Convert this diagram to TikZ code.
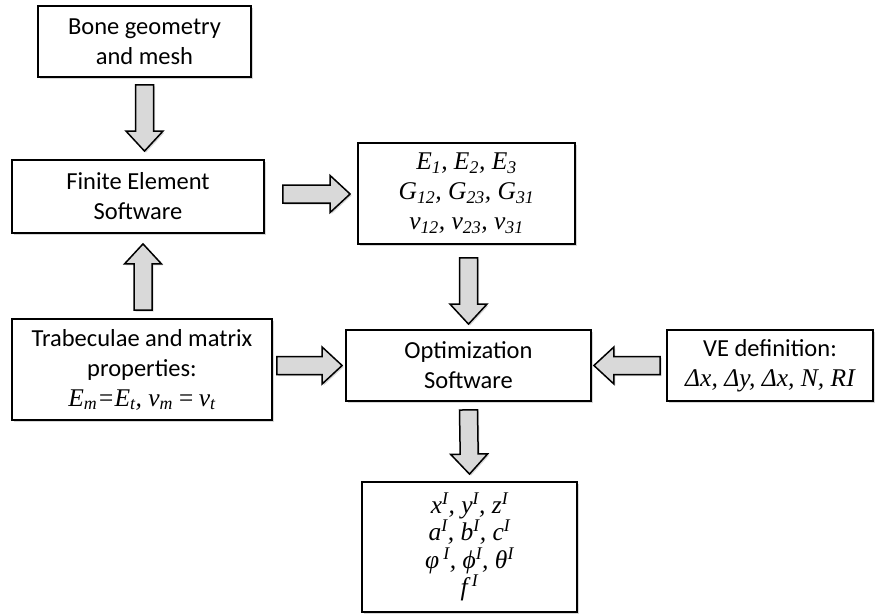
\documentclass[tikz,border=0pt]{standalone}
\usepackage{fontspec}
\setmainfont{Carlito}
\newfontfamily\tnr{Liberation Serif}
\usepackage{xcolor}
\usetikzlibrary{calc, shadows}
\definecolor{arrowgray}{HTML}{D9D9D9}
\definecolor{shadowgray}{HTML}{8C8C8C}
\newcommand{\mth}[1]{{\tnr\itshape\fontsize{25.5}{\baselineskip}\selectfont #1}}
\newcommand{\tsub}[1]{\textsubscript{#1}}
\newcommand{\tsup}[1]{\textsuperscript{#1}}

\begin{document}
\begin{tikzpicture}[
    x=1pt, y=-1pt,
    every node/.style={font=\fontsize{24.5}{30}\selectfont},
    box/.style={
      rectangle, draw=black, fill=white,
      line width=1.8pt, align=center, inner sep=0pt,
      drop shadow={shadow xshift=1.5pt, shadow yshift=-1.5pt,
                   opacity=0.35, fill=shadowgray}},
    blockarrow/.style={
      draw=black, fill=arrowgray, line width=1.5pt, line join=miter,
      drop shadow={shadow xshift=1.5pt, shadow yshift=-1.5pt,
                   opacity=0.35, fill=shadowgray},
      to path={
        ($(\tikztotarget)!20pt!(\tikztostart)$) coordinate (ba-c)
        ($(\tikztostart)!9pt!90:(\tikztotarget)$)
        -- ($(ba-c)!9pt!90:(\tikztotarget)$)
        -- ($(ba-c)!18.5pt!90:(\tikztotarget)$)
        -- (\tikztotarget)
        -- ($(ba-c)!18.5pt!-90:(\tikztotarget)$)
        -- ($(ba-c)!9pt!-90:(\tikztotarget)$)
        -- ($(\tikztostart)!9pt!-90:(\tikztotarget)$)
        -- cycle}}
  ]
    \useasboundingbox (0,0) rectangle (875,613);

    \node[box, minimum width=213pt, minimum height=71pt] (bone) at (144.5,41.5)
      {Bone geometry\\and mesh};
    \node[box, minimum width=252pt, minimum height=73pt] (fem) at (138,196.5)
      {Finite Element\\Software};
    \node[box, minimum width=260pt, minimum height=101pt] (trab) at (142,369.5)
      {Trabeculae and matrix\\properties:\\
       \mth{E\tsub{m}=E\tsub{t}, ν\tsub{m}\,=\,ν\tsub{t}}};
    \node[box, minimum width=217pt, minimum height=101pt] (consts) at (466.5,193.5)
      {\mth{E\tsub{1}, E\tsub{2}, E\tsub{3}}\\
       \mth{G\tsub{12}, G\tsub{23}, G\tsub{31}}\\
       \mth{ν\tsub{12}, ν\tsub{23}, ν\tsub{31}}};
    \node[box, minimum width=245pt, minimum height=71pt] (optim) at (468.5,365.5)
      {Optimization\\Software};
    \node[box, minimum width=206pt, minimum height=71pt] (vedef) at (770,365.5)
      {VE definition:\\\mth{Δx, Δy, Δx, N, RI}};
    \node[box, minimum width=215pt, minimum height=130pt,
          font=\fontsize{24.5}{27.5}\selectfont] (result) at (469.5,547)
      {\mth{x\tsup{I}, y\tsup{I}, z\tsup{I}}\\
       \mth{a\tsup{I}, b\tsup{I}, c\tsup{I}}\\
       \mth{φ\,\tsup{I}, ϕ\tsup{I}, θ\tsup{I}}\\
       \mth{f\,\tsup{I}}};

    \draw[blockarrow] ([yshift=-7pt]bone.south) to ([yshift=8pt]bone.south |- fem.north);
    \draw[blockarrow] ([xshift=1pt, yshift=8pt]trab.north) to ([xshift=1pt, yshift=-10pt]trab.north |- fem.south);
    \draw[blockarrow] ([xshift=18pt, yshift=2.5pt]fem.east) to ([xshift=-7pt, yshift=2.5pt]consts.west |- fem.east);
    \draw[blockarrow] ([yshift=-13pt]consts.south -| optim.south) to ([yshift=5pt]optim.north);
    \draw[blockarrow] ([xshift=4pt]trab.east |- optim.west) to ([xshift=-3pt]optim.west);
    \draw[blockarrow] ([xshift=-6pt]vedef.west) to ([xshift=2pt]optim.east);
    \draw[blockarrow] ([yshift=-8pt]optim.south) to ([yshift=7pt]result.north);
\end{tikzpicture}
\end{document}
